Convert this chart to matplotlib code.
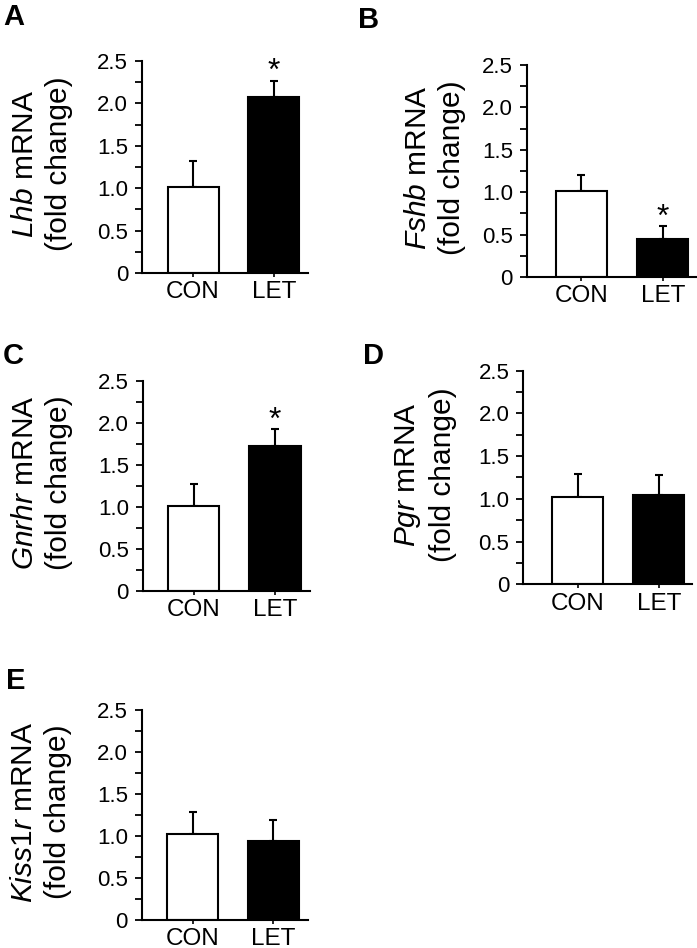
import matplotlib
matplotlib.use("Agg")
import matplotlib.pyplot as plt
from matplotlib.ticker import FixedLocator

plt.rcParams['font.family'] = ['Liberation Sans', 'DejaVu Sans']
plt.rcParams['mathtext.fontset'] = 'custom'
plt.rcParams['mathtext.rm'] = 'Liberation Sans'
plt.rcParams['mathtext.it'] = 'Liberation Sans:italic'

# ---- data ----
letters = ["A", "B", "C", "D", "E"]
genes = ["Lhb", "Fshb", "Gnrhr", "Pgr", "Kiss1r"]
groups = ["CON", "LET"]
con_mean = [1.01, 1.01, 1.01, 1.02, 1.02]
con_sem = [0.31, 0.19, 0.26, 0.27, 0.27]
let_mean = [2.08, 0.45, 1.72, 1.05, 0.94]
let_sem = [0.19, 0.15, 0.20, 0.23, 0.25]
signif = [True, True, True, False, False]
yticks = [0, 0.5, 1.0, 1.5, 2.0, 2.5]
yticklabels = ["0", "0.5", "1.0", "1.5", "2.0", "2.5"]
yminor = [0.25, 0.75, 1.25, 1.75, 2.25]

# ---- layout (pixels) ----
W, H = 697, 948
# x0, x1, ytop, ybot, xlim_left, xlim_right
boxes = [
    (142.0, 308.0, 61.0, 273.0, -0.63, 1.42),
    (526.7, 697.0, 65.0, 277.0, -0.67, 1.42),
    (142.7, 310.0, 380.7, 591.0, -0.63, 1.43),
    (523.3, 692.0, 370.7, 584.3, -0.67, 1.41),
    (141.7, 308.0, 710.0, 920.0, -0.63, 1.43),
]
ylabel_x = [42, 435, 42, 425, 41]
letter_pos = [(3, 3), (358, 6), (3, 342), (363, 342), (6, 667)]

fig = plt.figure(figsize=(W / 100, H / 100), dpi=100)

for i in range(5):
    x0, x1, yt, yb, xl, xr = boxes[i]
    ax = fig.add_axes([x0 / W, 1 - yb / H, (x1 - x0) / W, (yb - yt) / H])
    xs = [0, 1]
    means = [con_mean[i], let_mean[i]]
    sems = [con_sem[i], let_sem[i]]
    ax.errorbar(xs, means, yerr=[[0, 0], sems], fmt='none', ecolor='black',
                elinewidth=1.5, capsize=3.2, capthick=1.5, zorder=1)
    ax.bar(xs, means, width=0.63, color=['white', 'black'], edgecolor='black',
           linewidth=1.5, zorder=2)
    ax.set_xlim(xl, xr)
    ax.set_ylim(0, 2.5)
    ax.set_yticks(yticks)
    ax.set_yticklabels(yticklabels)
    ax.yaxis.set_minor_locator(FixedLocator(yminor))
    ax.set_xticks(xs)
    ax.set_xticklabels(groups)
    for s in ['top', 'right']:
        ax.spines[s].set_visible(False)
    for s in ['left', 'bottom']:
        ax.spines[s].set_linewidth(1.5)
    ax.tick_params(axis='y', which='both', direction='out', length=5, width=1.3,
                   labelsize=16, pad=5)
    ax.tick_params(axis='x', which='major', direction='out', length=3, width=1.2,
                   labelsize=17.5, pad=3)
    ax.set_facecolor('none')
    if signif[i]:
        ax.annotate('*', xy=(1, let_mean[i] + let_sem[i]), xytext=(0, 0.5),
                    textcoords='offset points', ha='center', va='baseline',
                    fontsize=23, annotation_clip=False)
    # y label
    yc = (yt + yb) / 2 - 3
    fig.text(ylabel_x[i] / W, 1 - yc / H,
             "$\\it{" + genes[i] + "}$ mRNA\n(fold change)",
             rotation=90, ha='center', va='center', multialignment='center',
             fontsize=21.5, linespacing=1.3)
    lx, ly = letter_pos[i]
    fig.text(lx / W, 1 - ly / H, letters[i], ha='left', va='top',
             fontsize=21, fontweight='bold')

fig.savefig("out.png", dpi=100)
